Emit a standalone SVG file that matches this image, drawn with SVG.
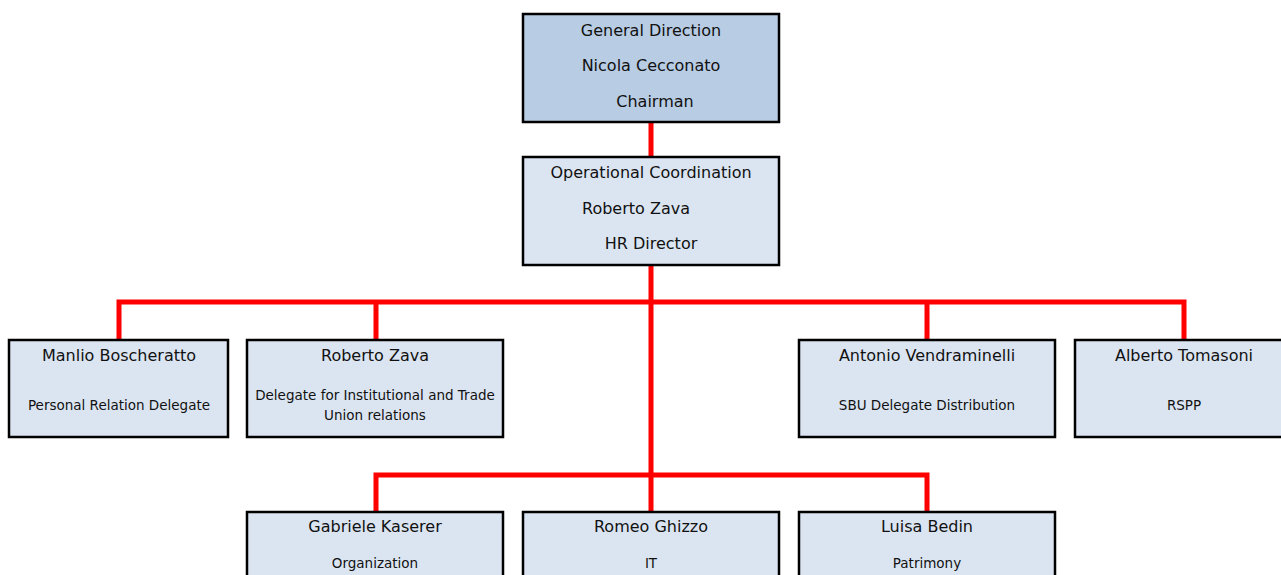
<svg xmlns="http://www.w3.org/2000/svg" width="1281" height="575" viewBox="0 0 1281 575">
<style>
.box{fill:#dbe5f1;stroke:#000;stroke-width:2.5}
.top{fill:#b8cce4}
.t{font-family:"DejaVu Sans","Liberation Sans",sans-serif;fill:#111;text-anchor:middle}
.n{font-size:16px}
.s{font-size:13.5px}
.c{fill:none;stroke:#ff0000;stroke-width:5;stroke-linecap:square}
</style>
<rect width="1281" height="575" fill="#fff"/>
<g id="connectors">
<path class="c" d="M651 122V157M651 265V512M119 302H1184M119 302V340M376 302V340M927 302V340M1184 302V340M376 475H927M376 475V512M927 475V512"/>
</g>
<g id="general">
<rect class="box top" x="523" y="14" width="256" height="108"/>
<text class="t n" x="651" y="36">General Direction</text>
<text class="t n" x="651" y="71">Nicola Cecconato</text>
<text class="t n" x="655" y="107">Chairman</text>
</g>
<g id="operational">
<rect class="box" x="523" y="157" width="256" height="108"/>
<text class="t n" x="651" y="178">Operational Coordination</text>
<text class="t n" x="636" y="214">Roberto Zava</text>
<text class="t n" x="651" y="249">HR Director</text>
</g>
<g id="manlio">
<rect class="box" x="9" y="340" width="219" height="97"/>
<text class="t n" x="119" y="361">Manlio Boscheratto</text>
<text class="t s" x="119" y="410">Personal Relation Delegate</text>
</g>
<g id="roberto">
<rect class="box" x="247" y="340" width="256" height="97"/>
<text class="t n" x="375" y="361">Roberto Zava</text>
<text class="t s" x="375" y="400">Delegate for Institutional and Trade</text>
<text class="t s" x="375" y="420">Union relations</text>
</g>
<g id="antonio">
<rect class="box" x="799" y="340" width="256" height="97"/>
<text class="t n" x="927" y="361">Antonio Vendraminelli</text>
<text class="t s" x="927" y="410">SBU Delegate Distribution</text>
</g>
<g id="alberto">
<rect class="box" x="1075" y="340" width="220" height="97"/>
<text class="t n" x="1184" y="361">Alberto Tomasoni</text>
<text class="t s" x="1184" y="410">RSPP</text>
</g>
<g id="gabriele">
<rect class="box" x="247" y="512" width="256" height="80"/>
<text class="t n" x="375" y="532">Gabriele Kaserer</text>
<text class="t s" x="375" y="568">Organization</text>
</g>
<g id="romeo">
<rect class="box" x="523" y="512" width="256" height="80"/>
<text class="t n" x="651" y="532">Romeo Ghizzo</text>
<text class="t s" x="651" y="568">IT</text>
</g>
<g id="luisa">
<rect class="box" x="799" y="512" width="256" height="80"/>
<text class="t n" x="927" y="532">Luisa Bedin</text>
<text class="t s" x="927" y="568">Patrimony</text>
</g>
</svg>
